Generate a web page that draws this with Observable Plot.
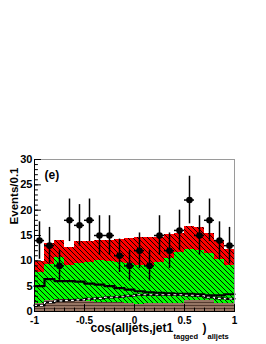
<!DOCTYPE html>
<html>
<head>
<meta charset="utf-8">
<script src="https://cdn.jsdelivr.net/npm/d3@7"></script>
<script src="https://cdn.jsdelivr.net/npm/@observablehq/plot@0.6"></script>
<style>
  html, body { margin: 0; padding: 0; background: #fff; }
  #chart svg { display: block; }
</style>
</head>
<body>
<div id="chart"></div>
<script>
// ---- data ----
const binEdges = [-1, -0.9, -0.8, -0.7, -0.6, -0.5, -0.4, -0.3, -0.2, -0.1, 0, 0.1, 0.2, 0.3, 0.4, 0.5, 0.6, 0.7, 0.8, 0.9, 1];
const dataCounts = [14, 13, 9, 18, 17, 18, 15, 15, 11, 9, 12, 9, 15, 12, 16, 22, 15, 18, 14, 13];
const dataErr    = [3.7, 3.6, 3.0, 4.2, 4.1, 4.2, 3.9, 3.9, 3.3, 3.0, 3.5, 3.0, 3.9, 3.5, 4.0, 4.7, 3.9, 4.2, 3.7, 3.6];
// stacked background tops (cumulative)
const brownTop = [1.6, 2.1, 2.4, 2.3, 2.0, 1.9, 1.8, 1.8, 1.7, 1.6, 1.4, 1.6, 1.6, 1.6, 1.6, 2.1, 2.1, 2.1, 1.5, 1.5];
const greenTop = [7.7, 9.2, 10.6, 9.0, 9.4, 9.7, 10.0, 9.9, 9.7, 9.4, 9.0, 9.1, 9.7, 10.5, 11.6, 12.2, 12.0, 11.4, 10.2, 9.1];
const redTop   = [9.9, 13.4, 14.0, 12.6, 13.8, 13.8, 14.0, 14.1, 14.2, 14.4, 14.6, 14.7, 14.7, 15.2, 15.3, 16.7, 16.5, 15.3, 13.9, 12.3];
// overlaid histograms
const solidLine  = [5.0, 6.4, 6.0, 6.0, 5.9, 5.5, 5.3, 5.0, 4.6, 4.3, 4.0, 3.8, 3.7, 3.6, 3.5, 3.5, 3.4, 3.2, 3.2, 3.4];
const dashedLine = [1.2, 1.8, 2.1, 2.2, 2.3, 2.5, 2.6, 2.8, 2.9, 3.1, 3.3, 3.3, 3.3, 3.3, 3.3, 3.2, 3.1, 2.8, 2.6, 2.5];
// axes
const xMajorTicks = [-1, -0.5, 0, 0.5, 1];
const xTickLabels = ["-1", "-0.5", "0", "0.5", "1"];
const yMajorTicks = [0, 5, 10, 15, 20, 25, 30];
const yTickLabels = ["0", "5", "10", "15", "20", "25", "30"];
const yTitle = "Events/0.1";
const panelLabel = "(e)";
const xTitleMain = "cos(alljets,jet1";
const xTitleSub1 = "tagged";
const xTitleParen = ")";
const xTitleSub2 = "alljets";

// ---- derived tables ----
const rows = dataCounts.map((c, i) => ({
  lo: binEdges[i], hi: binEdges[i + 1], mid: (binEdges[i] + binEdges[i + 1]) / 2,
  n: c, err: dataErr[i],
  brown: brownTop[i], green: greenTop[i], red: redTop[i]
}));
function steps(values) {
  const pts = values.map((v, i) => ({x: binEdges[i], y: v}));
  pts.push({x: binEdges[binEdges.length - 1], y: values[values.length - 1]});
  return pts;
}
const xMinorTicks = binEdges;
const yMinorTicks = d3.range(0, 31);

const tickShape = {draw(context, l) { context.moveTo(0, 0); context.lineTo(0, -l); }};

function defs() {
  const d = d3.create("svg:defs");
  function hatch(id, bg, line, size) {
    const p = d.append("pattern").attr("id", id).attr("patternUnits", "userSpaceOnUse")
      .attr("width", size).attr("height", size);
    p.append("rect").attr("width", size).attr("height", size).attr("fill", bg);
    p.append("path")
      .attr("d", `M0,0L${size},${size}M${-size / 2},${size / 2}L${size / 2},${size * 1.5}M${size / 2},${-size / 2}L${size * 1.5},${size / 2}`)
      .attr("stroke", line).attr("stroke-width", 0.9);
  }
  hatch("hatchRed", "#ff0000", "#000", 5);
  hatch("hatchGreen", "#00ff00", "#000", 5);
  const b = d.append("pattern").attr("id", "hatchBrown").attr("patternUnits", "userSpaceOnUse")
    .attr("width", 4).attr("height", 3);
  b.append("rect").attr("width", 4).attr("height", 3).attr("fill", "#967564");
  b.append("rect").attr("y", 2).attr("width", 4).attr("height", 1).attr("fill", "#553a2e");
  return d.node();
}

const chart = Plot.plot({
  width: 266,
  height: 344,
  marginLeft: 34,
  marginRight: 32,
  marginTop: 159,
  marginBottom: 33,
  x: {domain: [-1, 1], label: null},
  y: {domain: [0, 30], label: null},
  style: {fontFamily: "'Liberation Sans', Arial, sans-serif", fontWeight: "bold", background: "#fff", overflow: "visible", color: "#000"},
  marks: [
    defs,
    Plot.rect(rows, {x1: "lo", x2: "hi", y1: "green", y2: "red", fill: "url(#hatchRed)", shapeRendering: "crispEdges"}),
    Plot.rect(rows, {x1: "lo", x2: "hi", y1: "brown", y2: "green", fill: "url(#hatchGreen)", shapeRendering: "crispEdges"}),
    Plot.rect(rows, {x1: "lo", x2: "hi", y1: 0, y2: "brown", fill: "url(#hatchBrown)", shapeRendering: "crispEdges"}),
    Plot.line(steps(solidLine), {x: "x", y: "y", curve: "step-after", stroke: "#000", strokeWidth: 2.2}),
    Plot.line(steps(dashedLine), {x: "x", y: "y", curve: "step-after", stroke: "#000", strokeWidth: 2.2}),
    Plot.line(steps(dashedLine), {x: "x", y: "y", curve: "step-after", stroke: "#fff", strokeWidth: 1.1, strokeDasharray: "2,4"}),
    Plot.ruleX(rows, {x: "mid", y1: d => d.n - d.err, y2: d => d.n + d.err, stroke: "#000", strokeWidth: 1.5}),
    Plot.ruleY(rows, {y: "n", x1: "lo", x2: "hi", stroke: "#000", strokeWidth: 1.5}),
    Plot.dot(rows, {x: "mid", y: "n", r: 3.3, fill: "#000", stroke: "none"}),
    Plot.frame({stroke: "#9a9a9a", strokeWidth: 1}),
    Plot.ruleX([-1], {stroke: "#000", strokeWidth: 1}),
    Plot.ruleY([0], {stroke: "#000", strokeWidth: 1}),
    // ticks drawn inward
    Plot.vectorX(xMajorTicks, {frameAnchor: "bottom", rotate: 0, length: 7, anchor: "start", shape: tickShape, stroke: "#000", strokeWidth: 1}),
    Plot.vectorX(xMinorTicks, {frameAnchor: "bottom", rotate: 0, length: 3.5, anchor: "start", shape: tickShape, stroke: "#000", strokeWidth: 1}),
    Plot.vectorY(yMajorTicks, {frameAnchor: "left", rotate: 90, length: 6, anchor: "start", shape: tickShape, stroke: "#000", strokeWidth: 1}),
    Plot.vectorY(yMinorTicks, {frameAnchor: "left", rotate: 90, length: 3, anchor: "start", shape: tickShape, stroke: "#000", strokeWidth: 1}),
    // tick labels
    Plot.axisX({ticks: xMajorTicks, tickSize: 0, tickPadding: 5, tickFormat: (d, i) => xTickLabels[i], fontSize: 10, label: null}),
    Plot.axisY({ticks: yMajorTicks, tickSize: 0, tickPadding: 2, tickFormat: (d, i) => yTickLabels[i], fontSize: 11, label: null}),
    // titles
    Plot.text([yTitle], {frameAnchor: "top-left", rotate: -90, textAnchor: "end", dx: -25, dy: 8, fontSize: 11.5, fontWeight: "bold", fill: "#000"}),
    Plot.text([panelLabel], {frameAnchor: "top-left", textAnchor: "start", dx: 10, dy: 11, fontSize: 12, fontWeight: "bold", fill: "#000"}),
    Plot.text([xTitleMain], {frameAnchor: "bottom-left", textAnchor: "start", dx: 56, dy: 20, fontSize: 12, fontWeight: "bold", fill: "#000"}),
    Plot.text([xTitleSub1], {frameAnchor: "bottom-left", textAnchor: "start", dx: 139, dy: 27, fontSize: 7.5, fontWeight: "bold", fill: "#000"}),
    Plot.text([xTitleParen], {frameAnchor: "bottom-left", textAnchor: "start", dx: 168, dy: 20, fontSize: 12, fontWeight: "bold", fill: "#000"}),
    Plot.text([xTitleSub2], {frameAnchor: "bottom-left", textAnchor: "start", dx: 173, dy: 27, fontSize: 7.5, fontWeight: "bold", fill: "#000"})
  ]
});
document.getElementById("chart").append(chart);
</script>
</body>
</html>
